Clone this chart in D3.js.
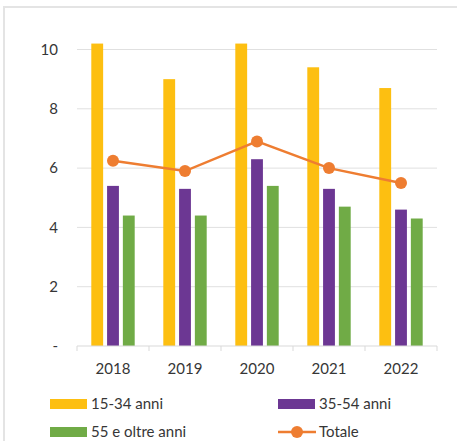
<!DOCTYPE html>
<html>
<head>
<meta charset="utf-8">
<script src="https://cdn.jsdelivr.net/npm/d3@7"></script>
<style>
  body { margin: 0; background: #fff; }
  svg { display: block; font-family: Lato, "Open Sans", sans-serif; }
</style>
</head>
<body>
<div id="chart"></div>
<script>
// dati
const years = ["2018", "2019", "2020", "2021", "2022"];
const giovani = [10.2, 9.0, 10.2, 9.4, 8.7];     // 15-34 anni
const adulti = [5.4, 5.3, 6.3, 5.3, 4.6];        // 35-54 anni
const anziani = [4.4, 4.4, 5.4, 4.7, 4.3];       // 55 e oltre anni
const totale = [6.25, 5.9, 6.9, 6.0, 5.5];
const yTicks = [0, 2, 4, 6, 8, 10];

const series = [
  { name: "15-34 anni", values: giovani, color: "#FDBF11" },
  { name: "35-54 anni", values: adulti, color: "#6C3793" },
  { name: "55 e oltre anni", values: anziani, color: "#70AB46" }
];

const width = 457, height = 441;
const textColor = "#363636";

const svg = d3.select("#chart").append("svg")
  .attr("width", width)
  .attr("height", height);

// bordo del grafico
svg.append("path")
  .attr("d", `M4,${height}V7H${width}`)
  .attr("fill", "none")
  .attr("stroke", "#e4e4e4")
  .attr("stroke-width", 2);

const x = d3.scaleBand()
  .domain(years)
  .range([77, 437]);

const inner = d3.scaleBand()
  .domain(series.map(s => s.name))
  .range([x.bandwidth() / 2 - 21.7, x.bandwidth() / 2 + 21.7])
  .paddingInner(0.25);

const y = d3.scaleLinear()
  .domain([0, 10])
  .range([346, 49.5]);

// griglia
svg.append("g")
  .selectAll("line")
  .data(yTicks.filter(d => d > 0))
  .join("line")
  .attr("x1", 77).attr("x2", 437)
  .attr("y1", d => y(d)).attr("y2", d => y(d))
  .attr("stroke", "#e0e0e0")
  .attr("stroke-width", 1);

// asse y
svg.append("g")
  .selectAll("text")
  .data(yTicks)
  .join("text")
  .attr("x", 58)
  .attr("y", d => y(d))
  .attr("dy", "0.35em")
  .attr("text-anchor", "end")
  .attr("font-size", 15)
  .attr("fill", textColor)
  .text(d => d === 0 ? "-" : d);

// barre
series.forEach(s => {
  svg.append("g")
    .selectAll("rect")
    .data(years.map((yr, i) => ({ yr, v: s.values[i] })))
    .join("rect")
    .attr("x", d => x(d.yr) + inner(s.name))
    .attr("y", d => y(d.v))
    .attr("width", inner.bandwidth())
    .attr("height", d => y(0) - y(d.v))
    .attr("fill", s.color);
});

// asse x
const xAxis = svg.append("g").attr("stroke", "#d9d9d9");
xAxis.append("line")
  .attr("x1", 77).attr("x2", 437)
  .attr("y1", y(0)).attr("y2", y(0));
xAxis.selectAll(".tick")
  .data(years.concat("end"))
  .join("line")
  .attr("x1", (d, i) => 77 + i * x.bandwidth())
  .attr("x2", (d, i) => 77 + i * x.bandwidth())
  .attr("y1", y(0)).attr("y2", y(0) + 5);

svg.append("g")
  .selectAll("text")
  .data(years)
  .join("text")
  .attr("x", d => x(d) + x.bandwidth() / 2)
  .attr("y", 369)
  .attr("dy", "0.35em")
  .attr("text-anchor", "middle")
  .attr("font-size", 15)
  .attr("fill", textColor)
  .text(d => d);

// linea totale
const line = d3.line()
  .x((d, i) => x(years[i]) + x.bandwidth() / 2)
  .y(d => y(d));

svg.append("path")
  .datum(totale)
  .attr("d", line)
  .attr("fill", "none")
  .attr("stroke", "#EE7D31")
  .attr("stroke-width", 2.5);

svg.append("g")
  .selectAll("circle")
  .data(totale)
  .join("circle")
  .attr("cx", (d, i) => x(years[i]) + x.bandwidth() / 2)
  .attr("cy", d => y(d))
  .attr("r", 6)
  .attr("fill", "#EE7D31");

// legenda
const legend = [
  { name: series[0].name, color: series[0].color, x: 50, y: 404, type: "bar" },
  { name: series[1].name, color: series[1].color, x: 278, y: 404, type: "bar" },
  { name: series[2].name, color: series[2].color, x: 50, y: 432, type: "bar" },
  { name: "Totale", color: "#EE7D31", x: 278, y: 432, type: "line" }
];

const lg = svg.append("g")
  .selectAll("g")
  .data(legend)
  .join("g")
  .attr("transform", d => `translate(${d.x},${d.y})`);

lg.filter(d => d.type === "bar")
  .append("rect")
  .attr("x", 0).attr("y", -5)
  .attr("width", 37).attr("height", 10)
  .attr("fill", d => d.color);

const ll = lg.filter(d => d.type === "line");
ll.append("line")
  .attr("x1", 0).attr("x2", 38)
  .attr("stroke", d => d.color)
  .attr("stroke-width", 2.5);
ll.append("circle")
  .attr("cx", 19).attr("r", 6)
  .attr("fill", d => d.color);

lg.append("text")
  .attr("x", 41)
  .attr("dy", "0.35em")
  .attr("font-size", 15)
  .attr("fill", textColor)
  .text(d => d.name);
</script>
</body>
</html>
